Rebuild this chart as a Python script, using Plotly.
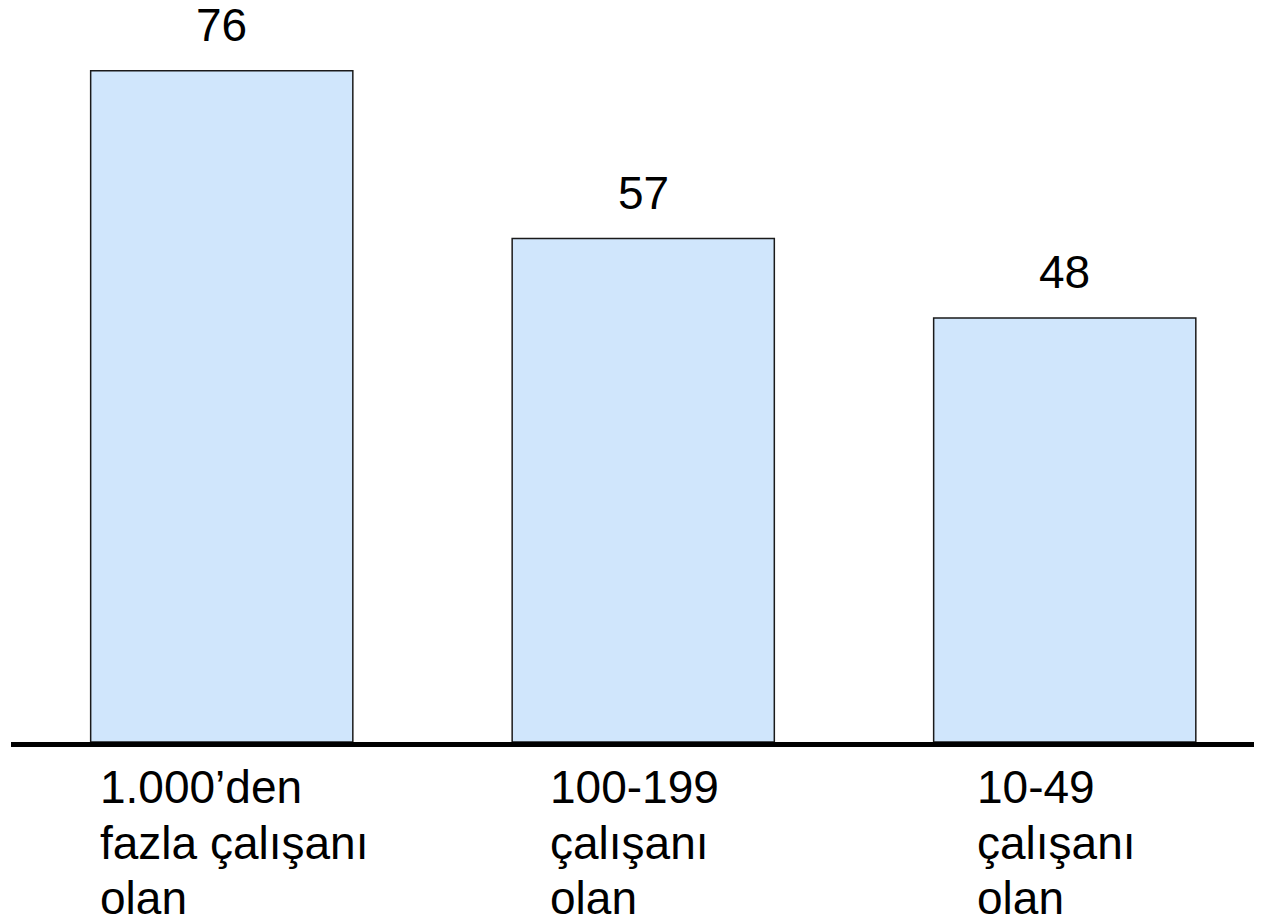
import plotly.graph_objects as go

# data
categories = ["1.000’den fazla çalışanı olan", "100-199 çalışanı olan", "10-49 çalışanı olan"]
label_lines = [
    ["1.000’den", "fazla çalışanı", "olan"],
    ["100-199", "çalışanı", "olan"],
    ["10-49", "çalışanı", "olan"],
]
values = [76, 57, 48]

FONT = "Liberation Sans, Arial, sans-serif"
FONT_SIZE = 46
BAR_FILL = "#d0e6fc"
BAR_EDGE = "#1a1a1a"
label_xshift = [-124, -95, -90]
LINE_STEP = 55.5
FIRST_LINE_SHIFT = -17

fig = go.Figure(
    go.Bar(
        x=categories,
        y=values,
        marker=dict(color=BAR_FILL, line=dict(color=BAR_EDGE, width=1.5)),
        hoverinfo="skip",
    )
)

# value labels above bars
for cat, val in zip(categories, values):
    fig.add_annotation(
        x=cat, y=val, text=str(val), showarrow=False,
        xanchor="center", yanchor="bottom", yshift=18,
        font=dict(family=FONT, size=FONT_SIZE, color="black"),
    )

# left-aligned category labels under the baseline, one annotation per line
for cat, lines, dx in zip(categories, label_lines, label_xshift):
    for i, line in enumerate(lines):
        fig.add_annotation(
            x=cat, y=0, yref="paper", text=line, showarrow=False,
            xanchor="left", yanchor="top", align="left",
            xshift=dx, yshift=FIRST_LINE_SHIFT - i * LINE_STEP,
            font=dict(family=FONT, size=FONT_SIZE, color="black"),
        )

# page body adds an 8px offset, margins compensate for it
fig.update_layout(
    width=1262, height=919,
    margin=dict(l=3, r=0, t=0, b=185),
    paper_bgcolor="white", plot_bgcolor="white",
    bargap=0.378, showlegend=False,
    xaxis=dict(
        type="category", range=[-0.5, 2.487], showticklabels=False,
        showgrid=False, zeroline=False, ticks="",
        showline=True, linecolor="black", linewidth=5,
    ),
    yaxis=dict(range=[0, 83.1], visible=False, showgrid=False, zeroline=False),
)

fig.write_html("out.html")
